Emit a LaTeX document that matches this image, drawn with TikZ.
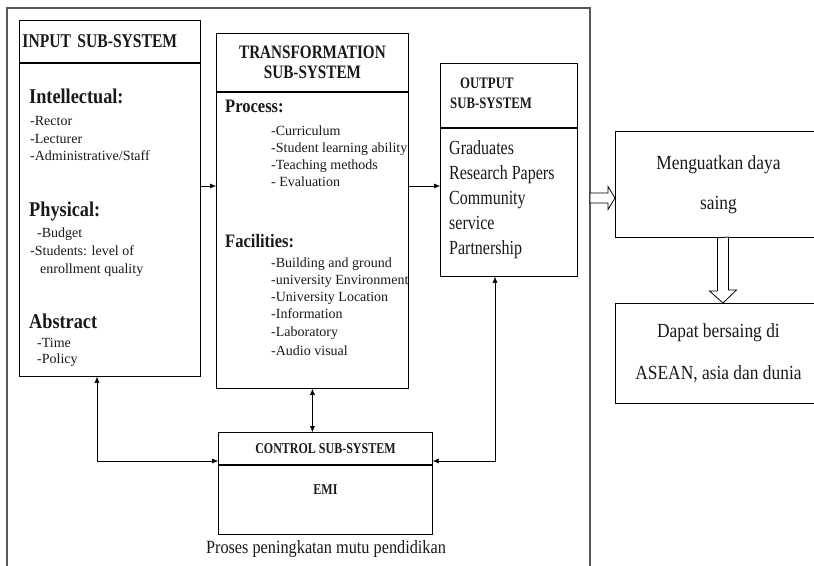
\documentclass[tikz,border=0pt]{standalone}
\usepackage{fontspec}
\setmainfont{Liberation Serif}
\newfontfamily\cond[FakeStretch=0.8]{Liberation Serif}
\newfontfamily\semicond[FakeStretch=0.87]{Liberation Serif}
\usetikzlibrary{arrows.meta, positioning, calc}

\begin{document}
\begin{tikzpicture}[x=1pt, y=-1pt, >={Latex[length=6pt, width=5pt]},
                    box/.style = {draw, line width=0.9pt, inner sep=0pt},
                    txt/.style = {inner sep=0pt, anchor=base west, text=black!90},
                    grp/.style = {txt, font=\semicond\bfseries\fontsize{21}{23}\selectfont},
                    subgrp/.style = {txt, font=\semicond\bfseries\fontsize{19}{21}\selectfont},
                    item/.style = {txt, font=\fontsize{14}{16}\selectfont},
                    outitem/.style = {txt, font=\cond\fontsize{20}{22}\selectfont},
                    hollow/.style = {draw, line width=0.8pt, fill=white},
                    frame/.style = {draw=black!65, line width=1.2pt}
                   ]

    \useasboundingbox (0,0) rectangle (814,565);
    \clip (0,0) rectangle (814,565);

    % outer frame, runs past the bottom of the picture
    \draw[frame] (7,575) -- (7,8) -- (590,8) -- (590,575);

    % input sub-system
    \node[box, minimum width=181, minimum height=42, anchor=north west, inner xsep=3pt,
          text width=175, align=left, text=black!90,
          font=\cond\bfseries\fontsize{19.5}{21}\selectfont] (inhead) at (19,20) {INPUT SUB-SYSTEM};
    \node[box, minimum width=181, minimum height=313, below=0pt of inhead] (inbody) {};
    \foreach \y/\t in {103/Intellectual:, 216/Physical:, 328/Abstract}
        \node[grp] (ing\y) at (29,\y) {\t};
    \foreach \x/\y/\t in {30/125/-Rector, 30/143/-Lecturer, 30/160/{-Administrative/Staff},
                          37/237/-Budget, 30/255/{-Students: level of}, 40/273/enrollment quality,
                          37/347/-Time, 37/363/-Policy}
        \node[item] (in\y) at (\x,\y) {\t};

    % transformation sub-system
    \node[box, minimum width=192, minimum height=58, anchor=north west, align=center, text=black!90,
          font=\cond\bfseries\fontsize{19}{20}\selectfont] (trhead) at (216,33) {TRANSFORMATION\\SUB-SYSTEM};
    \node[box, minimum width=192, minimum height=296, below=0pt of trhead] (trbody) {};
    \foreach \y/\t in {112/Process:, 247/Facilities:}
        \node[subgrp] (trg\y) at (225,\y) {\t};
    \foreach \y/\t in {135/-Curriculum, 152/-Student learning ability, 169/-Teaching methods,
                       186/- Evaluation, 267/-Building and ground, 284/-university Environment,
                       301/-University Location, 318/-Information, 336/-Laboratory, 355/-Audio visual}
        \node[item] (tr\y) at (271,\y) {\t};

    % output sub-system
    \node[box, minimum width=137, minimum height=64, anchor=north west] (outhead) at (440,63) {};
    \node[box, minimum width=137, minimum height=148, below=0pt of outhead] (outbody) {};
    \foreach \x/\y/\t in {460/88/OUTPUT, 450/108/SUB-SYSTEM}
        \node[txt, font=\cond\bfseries\fontsize{16}{18}\selectfont] (outt\y) at (\x,\y) {\t};
    \foreach \y/\t in {154/Graduates, 179/Research Papers, 204/Community, 229/service, 254/Partnership}
        \node[outitem] (out\y) at (449,\y) {\t};

    % control sub-system
    \node[box, minimum width=214, minimum height=32, anchor=north west, text=black!90,
          font=\cond\bfseries\fontsize{15}{17}\selectfont] (ctrlhead) at (218,432) {CONTROL SUB-SYSTEM};
    \node[box, minimum width=214, minimum height=69, below=0pt of ctrlhead] (ctrlbody) {};
    \node[font=\cond\bfseries\fontsize{15}{17}\selectfont, text=black!90] (emi)
          at ($(ctrlbody.center)+(0,-10)$) {EMI};
    \node[txt, anchor=base, font=\semicond\fontsize{18.7}{20}\selectfont] (caption) at (326,553)
          {Proses peningkatan mutu pendidikan};

    % results, cut off at the right edge
    \node[box, minimum width=206, minimum height=106, anchor=north west, align=center,
          font=\semicond\fontsize{20}{40}\selectfont, text=black!90] (meng) at (615,131) {Menguatkan daya\\saing};
    \node[box, minimum width=206, minimum height=100, anchor=north west, align=center,
          font=\semicond\fontsize{20}{42}\selectfont, text=black!90] (dapat) at (615,303) {Dapat bersaing di\\ASEAN, asia dan dunia};

    % connectors
    \coordinate (lvl) at (0,186);
    \draw[->] (inbody.east |- lvl) -- (trbody.west |- lvl);
    \draw[->] (trbody.east |- lvl) -- (outbody.west |- lvl);
    \draw[<->] (trbody.south) -- (trbody.south |- ctrlhead.north);

    \coordinate (cl) at (97,461);
    \coordinate (cr) at (495,461);
    \draw[<->] (inbody.south -| cl) -- (cl) -- (ctrlhead.west |- cl);
    \draw[<->] (outbody.south -| cr) -- (cr) -- (ctrlhead.east |- cr);

    % hollow block arrows
    \coordinate (h0) at (590,198);
    \draw[hollow] (h0) ++(0,-5) -- ++(18,0) -- ++(0,-6.5) -- (meng.west |- h0)
        -- ++(-7,11.5) -- ++(0,-6.5) -- ++(-18,0) -- cycle;
    \coordinate (v0) at ($(meng.south)+(4.5,0)$);
    \draw[hollow] (v0) ++(-5.5,0) -- ++(0,53) -- ++(-8,0) -- (v0 |- dapat.north)
        -- ++(13.5,-13) -- ++(-8,0) -- ++(0,-53) -- cycle;

\end{tikzpicture}
\end{document}
